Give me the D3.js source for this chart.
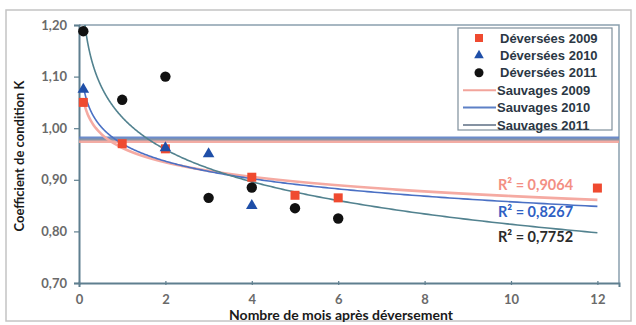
<!DOCTYPE html>
<html>
<head>
<meta charset="utf-8">
<script src="https://cdn.jsdelivr.net/npm/d3@7"></script>
<style>
  html, body { margin: 0; padding: 0; background: #ffffff; }
  svg { display: block; }
</style>
</head>
<body>
<svg id="chart" width="636" height="325"></svg>
<script>
// Months after release and condition factor K for released fish
const months2009 = [0.1, 1, 2, 4, 5, 6, 12];
const k2009      = [1.05, 0.97, 0.96, 0.905, 0.87, 0.865, 0.884];
const months2010 = [0.1, 2, 3, 4];
const k2010      = [1.075, 0.962, 0.95, 0.85];
const months2011 = [0.1, 1, 2, 3, 4, 5, 6];
const k2011      = [1.188, 1.055, 1.10, 0.865, 0.885, 0.845, 0.825];

// Wild fish reference levels
const wildYears  = ["2009", "2010", "2011"];
const wildK      = [0.974, 0.981, 0.978];

// Goodness of fit shown for each logarithmic trend
const r2Labels   = ["R² = 0,9064", "R² = 0,8267", "R² = 0,7752"];

const xTicks = [0, 2, 4, 6, 8, 10, 12];
const yTicks = [0.70, 0.80, 0.90, 1.00, 1.10, 1.20];

const svg = d3.select("#chart");

const plot = { left: 79, right: 619, top: 25, bottom: 283 };
const x = d3.scaleLinear().domain([0, 12.5]).range([plot.left, plot.right]);
const y = d3.scaleLinear().domain([0.70, 1.20]).range([plot.bottom, plot.top]);

const fmt = v => d3.format(".2f")(v).replace(".", ",");

// outer frame
svg.append("rect")
  .attr("x", 6).attr("y", 10).attr("width", 625).attr("height", 311)
  .attr("fill", "#ffffff").attr("stroke", "#c4c4c4").attr("stroke-width", 1.5);

// plot frame (top and right)
svg.append("path")
  .attr("d", `M${plot.left},${plot.top}H${plot.right}V${plot.bottom}`)
  .attr("fill", "none").attr("stroke", "#8aa0ae").attr("stroke-width", 1.5);

svg.append("defs").append("clipPath").attr("id", "plotClip")
  .append("rect")
  .attr("x", plot.left).attr("y", plot.top)
  .attr("width", plot.right - plot.left).attr("height", plot.bottom - plot.top);

// axes
const axisColor = "#5f7f8f";
const xAxis = svg.append("g")
  .attr("transform", `translate(0,${plot.bottom})`)
  .call(d3.axisBottom(x).tickValues(xTicks).tickSize(4).tickPadding(8).tickFormat(d3.format("d")));
const yAxis = svg.append("g")
  .attr("transform", `translate(${plot.left},0)`)
  .call(d3.axisLeft(y).tickValues(yTicks).tickSize(5).tickPadding(7).tickFormat(fmt));

[xAxis, yAxis].forEach(g => {
  g.select(".domain").attr("stroke", axisColor).attr("stroke-width", 2);
  g.selectAll(".tick line").attr("stroke", axisColor).attr("stroke-width", 1.2);
  g.selectAll(".tick text")
    .attr("fill", "#6a6a6a")
    .style("font-family", "Lato, 'Open Sans', sans-serif")
    .style("font-weight", "700")
    .style("font-size", "13px");
});
xAxis.selectAll(".tick line").attr("transform", "translate(0,-2)");

// axis titles
svg.append("text")
  .attr("transform", `translate(24,${(plot.top + plot.bottom) / 2 + 2}) rotate(-90)`)
  .attr("text-anchor", "middle")
  .style("font-family", "Lato, 'Open Sans', sans-serif")
  .style("font-weight", "700").style("font-size", "13px")
  .attr("fill", "#1a1a1a")
  .text("Coefficient de condition K");

svg.append("text")
  .attr("x", 341).attr("y", 320)
  .attr("text-anchor", "middle")
  .style("font-family", "Lato, 'Open Sans', sans-serif")
  .style("font-weight", "700").style("font-size", "14px")
  .attr("fill", "#1a1a1a")
  .text("Nombre de mois après déversement");

const layer = svg.append("g").attr("clip-path", "url(#plotClip)");

// wild reference levels as horizontal lines
const wildColors = ["#f2a49b", "#5d80c6", "#8592a2"];
const wildWidths = [3, 3, 2];
wildK.forEach((k, i) => {
  layer.append("line")
    .attr("x1", x(0)).attr("x2", x(12.5))
    .attr("y1", y(k)).attr("y2", y(k))
    .attr("stroke", wildColors[i]).attr("stroke-width", wildWidths[i])
    .attr("opacity", 0.9);
});

// least-squares logarithmic trend  k = a·ln(m) + b
function logFit(ms, ks) {
  const lx = ms.map(Math.log);
  const mx = d3.mean(lx), my = d3.mean(ks);
  let sxy = 0, sxx = 0;
  lx.forEach((v, i) => { sxy += (v - mx) * (ks[i] - my); sxx += (v - mx) * (v - mx); });
  const a = sxy / sxx;
  return { a, b: my - a * mx };
}

const trends = [
  { ms: months2009, ks: k2009, color: "#f5aaa2", width: 2.6 },
  { ms: months2010, ks: k2010, color: "#4a70c4", width: 1.6 },
  { ms: months2011, ks: k2011, color: "#52828f", width: 1.6 }
];
const line = d3.line().x(d => x(d[0])).y(d => y(d[1])).curve(d3.curveLinear);
trends.forEach(t => {
  const f = logFit(t.ms, t.ks);
  const start = d3.min(t.ms);
  const pts = d3.range(0, 401).map(i => {
    const m = start * Math.pow(12 / start, i / 400);
    return [m, f.a * Math.log(m) + f.b];
  });
  layer.append("path")
    .attr("d", line(pts))
    .attr("fill", "none")
    .attr("stroke", t.color).attr("stroke-width", t.width);
});

// R² labels
const r2Colors = ["#f06a5a", "#2f5fc4", "#2b2b2b"];
const r2Y = [190, 217, 242];
r2Labels.forEach((lbl, i) => {
  svg.append("text")
    .attr("x", 498).attr("y", r2Y[i])
    .style("font-family", "Lato, 'Open Sans', sans-serif")
    .style("font-weight", "700").style("font-size", "14.5px")
    .attr("fill", r2Colors[i])
    .attr("opacity", i === 0 ? 0.75 : 1)
    .text(lbl);
});

// markers
const red = "#ef4a30", blue = "#1f4fa8", black = "#111111";
const pts = svg.append("g");
pts.selectAll("rect.d2009")
  .data(months2009.map((m, i) => [m, k2009[i]]))
  .join("rect")
  .attr("class", "d2009")
  .attr("x", d => x(d[0]) - 4.5).attr("y", d => y(d[1]) - 4.5)
  .attr("width", 9).attr("height", 9)
  .attr("fill", red);

const tri = d3.symbol().type(d3.symbolTriangle).size(58);
pts.selectAll("path.d2010")
  .data(months2010.map((m, i) => [m, k2010[i]]))
  .join("path")
  .attr("class", "d2010")
  .attr("d", tri)
  .attr("transform", d => `translate(${x(d[0])},${y(d[1])})`)
  .attr("fill", blue);

pts.selectAll("circle.d2011")
  .data(months2011.map((m, i) => [m, k2011[i]]))
  .join("circle")
  .attr("class", "d2011")
  .attr("cx", d => x(d[0])).attr("cy", d => y(d[1]))
  .attr("r", 5.2)
  .attr("fill", black);

// legend
const lg = svg.append("g");
lg.append("rect")
  .attr("x", 458).attr("y", 28).attr("width", 154).attr("height", 102)
  .attr("fill", "#ffffff").attr("stroke", "#7f8f9c").attr("stroke-width", 1.2);

const legendRows = [
  { label: "Déversées 2009", kind: "square", color: red },
  { label: "Déversées 2010", kind: "triangle", color: blue },
  { label: "Déversées 2011", kind: "circle", color: black },
  { label: "Sauvages 2009", kind: "line", color: wildColors[0] },
  { label: "Sauvages 2010", kind: "line", color: wildColors[1] },
  { label: "Sauvages 2011", kind: "line", color: wildColors[2] }
];
legendRows.forEach((r, i) => {
  const cy = 38 + i * 17.4;
  if (r.kind === "square") {
    lg.append("rect").attr("x", 475).attr("y", cy - 4).attr("width", 8).attr("height", 8).attr("fill", r.color);
  } else if (r.kind === "triangle") {
    lg.append("path").attr("d", d3.symbol().type(d3.symbolTriangle).size(40))
      .attr("transform", `translate(479,${cy})`).attr("fill", r.color);
  } else if (r.kind === "circle") {
    lg.append("circle").attr("cx", 479).attr("cy", cy).attr("r", 4.5).attr("fill", r.color);
  } else {
    lg.append("line").attr("x1", 463).attr("x2", 496).attr("y1", cy).attr("y2", cy)
      .attr("stroke", r.color).attr("stroke-width", 2);
  }
  lg.append("text")
    .attr("x", r.kind === "line" ? 497 : 500).attr("y", cy + 4.5)
    .style("font-family", "'Liberation Sans', Arial, sans-serif")
    .style("font-weight", "700").style("font-size", "13px")
    .attr("fill", "#2b3744")
    .text(r.label);
});
</script>
</body>
</html>
